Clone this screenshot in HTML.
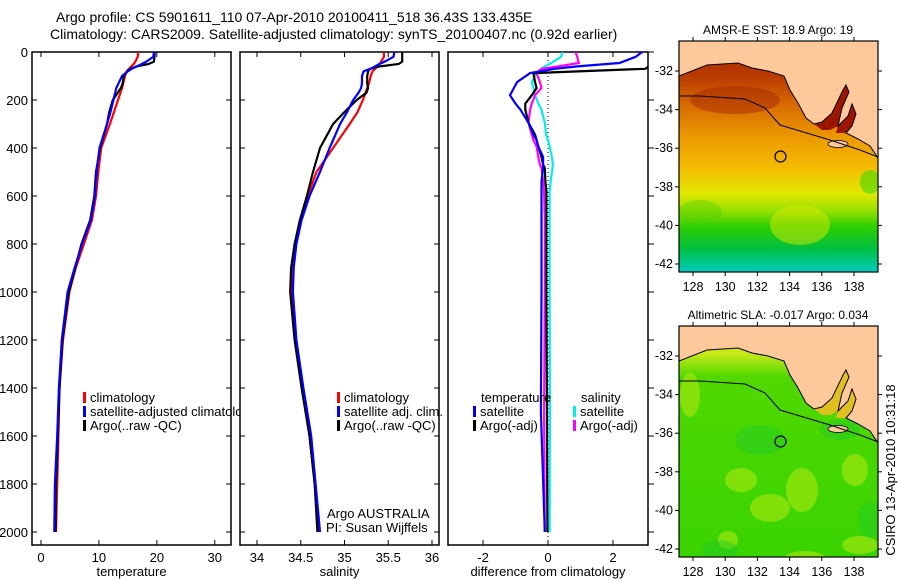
<!DOCTYPE html>
<html><head><meta charset="utf-8"><style>
body{margin:0;background:#fff;}
svg{display:block;font-family:"Liberation Sans",sans-serif;}
text{fill:#000;}
</style></head><body>
<svg id="fig" width="900" height="580" viewBox="0 0 900 580">
<defs>
<linearGradient id="sstGrad" x1="0" y1="0" x2="0" y2="1">
<stop offset="0" stop-color="#a82800"/><stop offset="0.15" stop-color="#b83a00"/>
<stop offset="0.28" stop-color="#d86c00"/><stop offset="0.42" stop-color="#ec9a00"/>
<stop offset="0.55" stop-color="#f4bc00"/><stop offset="0.66" stop-color="#e2e800"/>
<stop offset="0.74" stop-color="#90e000"/><stop offset="0.8" stop-color="#30d000"/>
<stop offset="0.9" stop-color="#00c040"/><stop offset="1" stop-color="#00ccc0"/>
</linearGradient>
<linearGradient id="slaGrad" x1="0" y1="0" x2="0" y2="1">
<stop offset="0" stop-color="#e8e020"/><stop offset="0.12" stop-color="#c8e818"/>
<stop offset="0.22" stop-color="#50d800"/><stop offset="1" stop-color="#3ad400"/>
</linearGradient>
<clipPath id="clipP1"><rect x="32" y="52" width="199" height="493"/></clipPath>
<clipPath id="clipP2"><rect x="240" y="52" width="199" height="493"/></clipPath>
<clipPath id="clipP3"><rect x="448" y="52" width="200" height="493"/></clipPath>
<clipPath id="clipLeg1"><rect x="32" y="52" width="208" height="493"/></clipPath>
<clipPath id="clipM1"><rect x="679" y="41" width="199" height="231"/></clipPath>
<clipPath id="clipM2"><rect x="679" y="326" width="199" height="231"/></clipPath>
</defs>
<text x="56" y="22" font-size="14">Argo profile: CS 5901611_110 07-Apr-2010 20100411_518 36.43S 133.435E</text>
<text x="50" y="39" font-size="14">Climatology: CARS2009. Satellite-adjusted climatology: synTS_20100407.nc (0.92d earlier)</text>
<g id="plots"></g>
<g id="maps"></g>
<text transform="translate(895,470) rotate(-90)" font-size="13" text-anchor="middle">CSIRO 13-Apr-2010 10:31:18</text>
</svg>
<script>
// ---- data ----
const tempDepth = [0,20,40,50,60,70,80,100,130,150,200,250,300,400,500,600,700,800,900,1000,1200,1400,1600,1800,2000];
const tempClim  = [16.8,16.7,16.3,16.0,15.6,15.2,14.8,14.5,14.2,14.0,13.3,12.6,11.9,10.4,9.9,9.5,8.8,7.4,6.0,4.9,3.8,3.2,3.0,2.8,2.6];
const tempSat   = [19.5,19.4,18.2,17.4,16.6,15.7,15.0,14.0,13.4,13.0,12.5,12.0,11.4,10.1,9.6,9.3,8.6,7.1,5.8,4.6,3.6,3.1,2.8,2.4,2.3];
const tempArgo  = [19.6,19.6,19.5,18.6,16.5,15.4,14.9,14.3,14.1,13.8,12.4,11.8,11.4,10.2,9.5,9.2,8.5,7.0,5.9,4.8,3.7,3.2,2.9,2.6,2.5];
const salDepth = [0,20,40,50,60,70,80,100,130,150,170,200,250,300,400,500,600,700,800,900,1000,1200,1400,1600,1800,2000];
const salClim  = [35.45,35.45,35.42,35.40,35.38,35.35,35.32,35.30,35.28,35.26,35.24,35.21,35.15,35.06,34.87,34.68,34.58,34.50,34.44,34.41,34.40,34.44,34.52,34.60,34.66,34.70];
const salSat   = [35.57,35.56,35.46,35.40,35.35,35.30,35.22,35.20,35.20,35.19,35.16,35.10,35.03,34.95,34.83,34.72,34.60,34.51,34.45,34.42,34.41,34.45,34.53,34.62,34.67,34.72];
const salArgo  = [35.66,35.66,35.66,35.62,35.40,35.29,35.27,35.26,35.26,35.27,35.25,35.14,35.00,34.87,34.72,34.64,34.57,34.49,34.43,34.39,34.38,34.43,34.51,34.60,34.66,34.69];
const diffDepth = [0,20,46,60,70,88,125,150,180,215,240,295,344,367,394,437,469,483,540,580,700,1000,1500,2000];
const diffTempSat  = [2.9,2.7,2.2,0.9,0.2,-0.55,-0.95,-1.05,-1.17,-1.0,-0.85,-0.6,-0.45,-0.35,-0.3,-0.15,-0.15,-0.15,-0.2,-0.2,-0.2,-0.2,-0.22,-0.1];
const diffTempArgo = [3.3,3.3,3.2,3.1,3.0,-0.45,-0.4,-0.35,-0.5,-0.7,-0.7,-0.6,-0.4,-0.35,-0.3,-0.2,-0.15,-0.1,-0.08,-0.05,-0.05,-0.05,-0.03,-0.02];
const diffSalSat   = [0.45,0.4,0.1,-0.1,-0.2,-0.35,-0.5,-0.45,-0.4,-0.3,-0.2,-0.1,-0.06,0.0,0.05,0.12,0.15,0.14,0.08,0.05,0.05,0.05,0.06,0.05];
const diffSalArgo  = [0.85,0.9,0.95,0.3,-0.2,-0.35,-0.25,-0.2,-0.4,-0.5,-0.55,-0.6,-0.5,-0.45,-0.35,-0.3,-0.25,-0.2,-0.15,-0.12,-0.1,-0.1,-0.12,-0.1];
const depthTicks = [0,200,400,600,800,1000,1200,1400,1600,1800,2000];
const tempTicks = [0,10,20,30];
const salTicks = [34,34.5,35,35.5,36];
const diffTicks = [-2,0,2];
const lonTicks = [128,130,132,134,136,138];
const latTicks = [-32,-34,-36,-38,-40,-42];
const floatLon = 133.435, floatLat = -36.43;

const NS='http://www.w3.org/2000/svg';
function mk(tag, attrs, parent){const e=document.createElementNS(NS,tag);for(const k in attrs)e.setAttribute(k,attrs[k]);parent.appendChild(e);return e;}
const plots=document.getElementById('plots');
const yTop=52, yBot=545;
const yD = d => yTop + d*0.24;

const panels=[
 {x0:32,x1:231,vmin:-1.55,vmax:32.8,ticks:tempTicks,label:'temperature',clip:'clipP1',name:'temperature'},
 {x0:240,x1:439,vmin:33.806,vmax:36.08,ticks:salTicks,label:'salinity',clip:'clipP2',name:'salinity'},
 {x0:448,x1:648,vmin:-3.08,vmax:3.08,ticks:diffTicks,label:'difference from climatology',clip:'clipP3',name:'difference'}
];
panels.forEach((p,i)=>{
  p.sx = v => p.x0 + (v-p.vmin)/(p.vmax-p.vmin)*(p.x1-p.x0);
  const g=mk('g',{},plots);
  
  
  const fr=mk('rect',{x:p.x0,y:yTop,width:p.x1-p.x0,height:yBot-yTop,fill:'none',stroke:'#000','stroke-width':1.5},g);
  
  
  p.ticks.forEach(t=>{
    const x=p.sx(t);
    mk('line',{x1:x,y1:yTop,x2:x,y2:yTop+5,stroke:'#000'},g);
    mk('line',{x1:x,y1:yBot,x2:x,y2:yBot-5,stroke:'#000'},g);
    const tl=mk('text',{x:x,y:562,'font-size':13,'text-anchor':'middle'},g);
    tl.textContent=t;
    
    
  });
  depthTicks.forEach(d=>{
    const y=yD(d);
    if(i<2){mk('line',{x1:p.x0,y1:y,x2:p.x0+5,y2:y,stroke:'#000'},g);}
    if(i<2){mk('line',{x1:p.x1,y1:y,x2:p.x1-5,y2:y,stroke:'#000'},g);}
    if(i===2){mk('line',{x1:p.x1,y1:y,x2:p.x1+6,y2:y,stroke:'#000'},g);}
    if(i===0){
      const dl=mk('text',{x:28,y:y+5,'font-size':13,'text-anchor':'end'},g);
      dl.textContent=d;
      
      
    }
  });
  const xl=mk('text',{x:(p.x0+p.x1)/2,y:576,'font-size':13,'text-anchor':'middle'},g);
  xl.textContent=p.label;
  
  
  p.g=g;
});
function stairs(depths, vals, p){
  let s='';
  for(let k=0;k<depths.length;k++){
    const x=p.sx(vals[k]).toFixed(1), y=yD(depths[k]).toFixed(1);
    s += (k?'L':'M')+x+' '+y+' ';
  }
  return s;
}
function series(p, depths, vals, color, name){
  const path=mk('path',{d:stairs(depths,vals,p),fill:'none',stroke:color,'stroke-width':2.2,'clip-path':'url(#'+p.clip+')','stroke-linejoin':'miter'},p.g);
  
  
}
const dot=mk('line',{x1:panels[2].sx(0),y1:yTop,x2:panels[2].sx(0),y2:yBot,stroke:'#000','stroke-dasharray':'1 3'},panels[2].g);


series(panels[0],tempDepth,tempClim,'#ff0000','temperature-climatology-line');
series(panels[0],tempDepth,tempArgo,'#000000','temperature-argo-line');
series(panels[0],tempDepth,tempSat,'#0000ff','temperature-satellite-line');
series(panels[1],salDepth,salClim,'#ff0000','salinity-climatology-line');
series(panels[1],salDepth,salArgo,'#000000','salinity-argo-line');
series(panels[1],salDepth,salSat,'#0000ff','salinity-satellite-line');
series(panels[2],diffDepth,diffSalSat,'#00eeee','diff-salinity-satellite-line');
series(panels[2],diffDepth,diffSalArgo,'#ff00ff','diff-salinity-argo-line');
series(panels[2],diffDepth,diffTempArgo,'#000000','diff-temperature-argo-line');
series(panels[2],diffDepth,diffTempSat,'#0000ff','diff-temperature-satellite-line');

function legend(g,x,y,color,label,name,clip){
  if(color){const b=mk('rect',{x:x,y:y-10,width:3,height:11,fill:color},g);
    
    }
  const t=mk('text',{x:x+7,y:y,'font-size':13},g);
  if(clip) t.setAttribute('clip-path','url(#'+clip+')');
  t.textContent=label;
  
  
}
legend(panels[0].g,83,402,'#ff0000','climatology','legend-climatology');
legend(panels[0].g,83,416,'#0000ff','satellite-adjusted climatology','legend-satellite-adjusted','clipLeg1');
legend(panels[0].g,83,430,'#000000','Argo(..raw -QC)','legend-argo');
legend(panels[1].g,337,402,'#ff0000','climatology','legend-sal-climatology');
legend(panels[1].g,337,416,'#0000ff','satellite adj. clim.','legend-sal-satellite');
legend(panels[1].g,337,430,'#000000','Argo(..raw -QC)','legend-sal-argo');
legend(panels[1].g,320,518,null,'Argo AUSTRALIA','argo-australia-label');
legend(panels[1].g,319,532,null,'PI: Susan Wijffels','pi-label');
legend(panels[2].g,474,402,null,'temperature','legend-temperature-header');
legend(panels[2].g,473,416,'#0000ff','satellite','legend-diff-temp-satellite');
legend(panels[2].g,473,430,'#000000','Argo(-adj)','legend-diff-temp-argo');
legend(panels[2].g,574,402,null,'salinity','legend-salinity-header');
legend(panels[2].g,573,416,'#00eeee','satellite','legend-diff-sal-satellite');
legend(panels[2].g,573,430,'#ff00ff','Argo(-adj)','legend-diff-sal-argo');

// ---- maps ----
const maps=document.getElementById('maps');
const coast=[[679,76],[707,65],[738,63],[752,68],[768,71],[784,76],[790,90],[798,103],[806,118],[814,124],[822,122],[832,113],[843,90],[846,85],[849,92],[842,108],[838,126],[848,116],[852,104],[856,114],[852,126],[846,133],[858,139],[870,146],[878,158],[878,30],[679,30]];
const gulf=[[814,124],[822,122],[832,113],[843,90],[846,85],[849,92],[842,108],[838,126],[830,130],[822,130]];
const gulf2=[[838,126],[848,116],[852,104],[856,114],[852,126],[846,133],[836,133]];
const isobath=[[679,96],[700,96],[745,99],[765,108],[780,125],[800,131],[830,140],[860,150],[878,157]];
function pts(a,dy){return a.map(p=>p[0]+','+(p[1]+dy)).join(' ');}
function drawMap(y0,dy,fill,title,clip,name,gulfFill,extra){
  const g=mk('g',{},maps);
  
  
  const lonX = lon => 693 + (lon-128)*16.1;
  const latY = lat => y0 + 30 + (-32-lat)*19.3;
  mk('rect',{x:679,y:y0,width:199,height:231,fill:fill},g);
  const eg=mk('g',{'clip-path':'url(#'+clip+')'},g);
  extra(eg);
  mk('polygon',{points:pts(gulf,dy),fill:gulfFill},eg);
  mk('polygon',{points:pts(gulf2,dy),fill:gulfFill},eg);
  const land=mk('polygon',{points:pts(coast,dy),fill:'#fdc99a',stroke:'#000','stroke-width':1,'clip-path':'url(#'+clip+')'},g);
  
  
  mk('ellipse',{cx:838,cy:144+dy,rx:10,ry:3.5,fill:'#fdc99a',stroke:'#000','stroke-width':0.8},g);
  mk('polyline',{points:pts(isobath,dy),fill:'none',stroke:'#000','stroke-width':1},g);
  const c=mk('circle',{cx:lonX(floatLon),cy:latY(floatLat),r:5.5,fill:'none',stroke:'#000','stroke-width':1.2},g);
  
  
  mk('rect',{x:679,y:y0,width:199,height:231,fill:'none',stroke:'#000','stroke-width':1.2},g);
  lonTicks.forEach(l=>{const x=lonX(l);
    mk('line',{x1:x,y1:y0,x2:x,y2:y0-4,stroke:'#000'},g);
    mk('line',{x1:x,y1:y0+231,x2:x,y2:y0+235,stroke:'#000'},g);
    const t=mk('text',{x:x,y:y0+250,'font-size':12.5,'text-anchor':'middle'},g);t.textContent=l;
    
    });
  latTicks.forEach(l=>{const y=latY(l);
    mk('line',{x1:679,y1:y,x2:675,y2:y,stroke:'#000'},g);
    mk('line',{x1:878,y1:y,x2:882,y2:y,stroke:'#000'},g);
    const t=mk('text',{x:673,y:y+4,'font-size':12.5,'text-anchor':'end'},g);t.textContent=l;
    
    });
  const tt=mk('text',{x:778,y:y0-7,'font-size':12,'text-anchor':'middle'},g);
  tt.textContent=title;
  
  
}
drawMap(41,0,'url(#sstGrad)','AMSR-E SST: 18.9 Argo: 19','clipM1','sst-map','#9c1500',eg=>{
  mk('ellipse',{cx:735,cy:100,rx:45,ry:14,fill:'#a82800',opacity:0.5},eg);
  mk('ellipse',{cx:800,cy:225,rx:30,ry:20,fill:'#d8e800',opacity:0.5},eg);
  mk('ellipse',{cx:700,cy:212,rx:22,ry:12,fill:'#50d000',opacity:0.4},eg);
  mk('ellipse',{cx:870,cy:182,rx:10,ry:12,fill:'#40d800',opacity:0.6},eg);
});
drawMap(326,285,'url(#slaGrad)','Altimetric SLA: -0.017 Argo: 0.034','clipM2','sla-map','#e0c020',eg=>{
  [[690,395,10,22],[741,480,16,12],[770,508,20,14],[802,490,16,22],[855,470,13,16],[860,545,18,9],[805,560,22,9],[728,540,10,9]].forEach(b=>{
    mk('ellipse',{cx:b[0],cy:b[1],rx:b[2],ry:b[3],fill:'#b8ea10',opacity:0.55},eg);});
  [[760,440,25,15],[840,430,20,10],[870,520,12,18],[720,550,18,10]].forEach(b=>{
    mk('ellipse',{cx:b[0],cy:b[1],rx:b[2],ry:b[3],fill:'#18c830',opacity:0.4},eg);});
});
</script>
</body></html>
